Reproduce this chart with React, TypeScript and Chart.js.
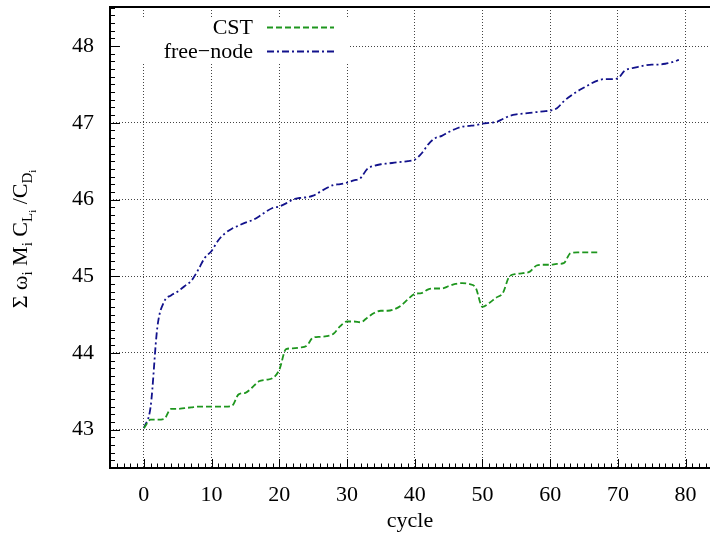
import React, { useEffect, useRef } from "react";
import { Chart, registerables } from "chart.js";

Chart.register(...registerables);

// ---- data ----
const freeNodeCycles = [
  0, 1, 2, 3, 4, 5, 6, 7, 8, 9, 10, 11, 12, 13, 14, 15, 16, 17, 18, 19,
  20, 21, 22, 23, 24, 25, 26, 27, 28, 29, 30, 31, 32, 33, 34, 35, 36, 37, 38, 39,
  40, 41, 42, 43, 44, 45, 46, 47, 48, 49, 50, 51, 52, 53, 54, 55, 56, 57, 58, 59,
  60, 61, 62, 63, 64, 65, 66, 67, 68, 69, 70, 71, 72, 73, 74, 75, 76, 77, 78, 79,
];
const freeNodeValues = [
  43.02, 43.3, 44.34, 44.67, 44.75, 44.8, 44.87, 44.94, 45.08, 45.24,
  45.33, 45.47, 45.56, 45.62, 45.66, 45.7, 45.73, 45.78, 45.84, 45.89,
  45.91, 45.95, 46.0, 46.02, 46.03, 46.05, 46.1, 46.15, 46.19, 46.2,
  46.22, 46.25, 46.28, 46.4, 46.44, 46.46, 46.47, 46.48, 46.49, 46.5,
  46.52, 46.6, 46.72, 46.8, 46.83, 46.88, 46.92, 46.95, 46.96, 46.97,
  46.99, 47.0, 47.01, 47.05, 47.09, 47.11, 47.12, 47.13, 47.14, 47.15,
  47.16, 47.19, 47.28, 47.35, 47.41, 47.46, 47.51, 47.55, 47.57, 47.57,
  47.58, 47.68, 47.71, 47.73, 47.75, 47.76, 47.76, 47.77, 47.79, 47.82,
];
const cstCycles = [
  0, 1, 2, 3, 4, 5, 6, 7, 8, 9, 10, 11, 12, 13, 14, 15, 16, 17, 18, 19,
  20, 21, 22, 23, 24, 25, 26, 27, 28, 29, 30, 31, 32, 33, 34, 35, 36, 37, 38, 39,
  40, 41, 42, 43, 44, 45, 46, 47, 48, 49, 50, 51, 52, 53, 54, 55, 56, 57, 58, 59,
  60, 61, 62, 63, 64, 65, 66, 67,
];
const cstValues = [
  43.02, 43.13, 43.13, 43.14, 43.27, 43.27, 43.28, 43.29, 43.3, 43.3,
  43.3, 43.3, 43.3, 43.31, 43.46, 43.48, 43.55, 43.63, 43.65, 43.67,
  43.78, 44.05, 44.06, 44.07, 44.09, 44.2, 44.21, 44.22, 44.25, 44.35,
  44.41, 44.41, 44.4, 44.46, 44.52, 44.55, 44.55, 44.57, 44.62, 44.7,
  44.77, 44.78, 44.83, 44.84, 44.84, 44.87, 44.9, 44.91, 44.9, 44.85,
  44.6, 44.65, 44.72, 44.78, 45.0, 45.03, 45.04, 45.06, 45.14, 45.15,
  45.15, 45.16, 45.17, 45.3, 45.31, 45.31, 45.31, 45.31,
];
const xTickValues = [0, 10, 20, 30, 40, 50, 60, 70, 80];
const yTickValues = [43, 44, 45, 46, 47, 48];
const seriesNames = ["CST", "free\u2212node"];
const xTitle = "cycle";
// y-axis title pieces: [text, level] where level 0 = normal, 1 = subscript, 2 = sub-subscript
const yTitleParts: [string, number][] = [
  ["\u03A3 ", 0],
  ["\u03C9", 0],
  ["i", 1],
  [" M", 0],
  ["i", 1],
  [" C", 0],
  ["L", 1],
  ["i", 2],
  [" /C", 0],
  ["D", 1],
  ["i", 2],
];

const FONT = '"Liberation Serif", "Times New Roman", serif';
const CST_COLOR = "#1e961e";
const FREE_COLOR = "#12128c";
const CST_DASH = [6, 3];
const FREE_DASH = [7, 3, 2, 3];

const axesPlugin = {
  id: "gnuplotAxes",
  afterDraw(chart: any) {
    const { ctx, chartArea: a, scales } = chart;
    const x = scales.x;
    const y = scales.y;
    ctx.save();
    ctx.strokeStyle = "#000";
    ctx.lineWidth = 1;
    ctx.setLineDash([]);
    ctx.beginPath();
    const xLo = Math.ceil(x.min);
    const xHi = Math.floor(x.max);
    for (let k = xLo; k <= xHi; k++) {
      const px = Math.round(x.getPixelForValue(k)) + 0.5;
      const len = k % 10 === 0 ? 9 : 4.5;
      ctx.moveTo(px, a.bottom);
      ctx.lineTo(px, a.bottom - len);
    }
    const yLo = Math.ceil(y.min * 10);
    const yHi = Math.floor(y.max * 10);
    for (let k = yLo; k <= yHi; k++) {
      const py = Math.round(y.getPixelForValue(k / 10)) + 0.5;
      const len = k % 10 === 0 ? 10 : 5;
      ctx.moveTo(a.left, py);
      ctx.lineTo(a.left + len, py);
    }
    ctx.stroke();
    ctx.lineWidth = 2;
    ctx.beginPath();
    ctx.moveTo(a.left, a.top - 1);
    ctx.lineTo(a.left, a.bottom + 1);
    ctx.moveTo(a.left - 1, a.bottom);
    ctx.lineTo(a.right, a.bottom);
    ctx.moveTo(a.left - 1, a.top);
    ctx.lineTo(a.right, a.top);
    ctx.stroke();
    ctx.restore();
  },
};

const legendPlugin = {
  id: "gnuplotLegend",
  afterDatasetsDraw(chart: any) {
    const { ctx } = chart;
    ctx.save();
    ctx.fillStyle = "#fff";
    ctx.fillRect(122, 17, 226, 46);
    const rows = [
      { label: seriesNames[0], color: CST_COLOR, dash: CST_DASH, y: 28 },
      { label: seriesNames[1], color: FREE_COLOR, dash: FREE_DASH, y: 52 },
    ];
    for (const r of rows) {
      ctx.fillStyle = "#000";
      ctx.font = `22px ${FONT}`;
      ctx.textAlign = "right";
      ctx.textBaseline = "middle";
      ctx.fillText(r.label, 253, r.y);
      ctx.strokeStyle = r.color;
      ctx.lineWidth = 1.8;
      ctx.setLineDash(r.dash);
      ctx.beginPath();
      ctx.moveTo(267, r.y - 0.5);
      ctx.lineTo(334, r.y - 0.5);
      ctx.stroke();
    }
    ctx.restore();
  },
};

const yTitlePlugin = {
  id: "yTitle",
  afterDraw(chart: any) {
    const { ctx } = chart;
    const sizes = [22, 15, 11];
    const shifts = [0, 5, 9];
    ctx.save();
    ctx.translate(27, 239);
    ctx.rotate(-Math.PI / 2);
    ctx.fillStyle = "#000";
    ctx.textBaseline = "alphabetic";
    ctx.textAlign = "left";
    let total = 0;
    for (const [t, lvl] of yTitleParts) {
      ctx.font = `${sizes[lvl]}px ${FONT}`;
      total += ctx.measureText(t).width;
    }
    let cx = -total / 2;
    for (const [t, lvl] of yTitleParts) {
      ctx.font = `${sizes[lvl]}px ${FONT}`;
      ctx.fillText(t, cx, shifts[lvl]);
      cx += ctx.measureText(t).width;
    }
    ctx.restore();
  },
};

const zeroPadding = (s: any) => {
  s.paddingTop = 0;
  s.paddingBottom = 0;
  s.paddingLeft = 0;
  s.paddingRight = 0;
};

export default function App() {
  const ref = useRef<HTMLCanvasElement | null>(null);

  useEffect(() => {
    if (!ref.current) return;
    const chart = new Chart(ref.current, {
      type: "line",
      data: {
        datasets: [
          {
            label: seriesNames[0],
            data: cstCycles.map((c, i) => ({ x: c, y: cstValues[i] })),
            borderColor: CST_COLOR,
            borderWidth: 1.8,
            borderDash: CST_DASH,
            pointRadius: 0,
            fill: false,
            cubicInterpolationMode: "monotone",
          },
          {
            label: seriesNames[1],
            data: freeNodeCycles.map((c, i) => ({ x: c, y: freeNodeValues[i] })),
            borderColor: FREE_COLOR,
            borderWidth: 1.8,
            borderDash: FREE_DASH,
            pointRadius: 0,
            fill: false,
            cubicInterpolationMode: "monotone",
          },
        ],
      },
      options: {
        responsive: false,
        animation: false,
        events: [],
        layout: { padding: { top: 7, right: 0, left: 0, bottom: 0 } },
        plugins: {
          legend: { display: false },
          tooltip: { enabled: false },
          title: { display: false },
        },
        scales: {
          x: {
            type: "linear",
            min: -5,
            max: 83.6,
            afterBuildTicks: (s: any) => {
              s.ticks = xTickValues.map((v) => ({ value: v }));
            },
            afterFit: (s: any) => {
              s.height = 76;
              zeroPadding(s);
            },
            grid: {
              color: "#444",
              lineWidth: 1,
              drawTicks: false,
            },
            border: { display: false, dash: [1, 2] },
            ticks: {
              color: "#000",
              font: { family: FONT, size: 22 },
              padding: 14,
              maxRotation: 0,
              autoSkip: false,
            },
            title: {
              display: true,
              text: xTitle,
              color: "#000",
              font: { family: FONT, size: 22 },
              padding: { top: 0, bottom: 10 },
            },
          },
          y: {
            type: "linear",
            min: 42.5,
            max: 48.51,
            afterBuildTicks: (s: any) => {
              s.ticks = yTickValues.map((v) => ({ value: v }));
            },
            afterFit: (s: any) => {
              s.width = 110;
              zeroPadding(s);
            },
            grid: {
              color: "#444",
              lineWidth: 1,
              drawTicks: false,
            },
            border: { display: false, dash: [1, 2] },
            ticks: {
              color: "#000",
              font: { family: FONT, size: 22 },
              padding: 16,
              autoSkip: false,
            },
          },
        },
      },
      plugins: [legendPlugin, axesPlugin, yTitlePlugin],
    } as any);
    return () => chart.destroy();
  }, []);

  return (
    <div style={{ position: "absolute", left: 0, top: 0, width: 710, height: 544, background: "#fff" }}>
      <canvas ref={ref} width={710} height={544} style={{ display: "block" }} />
    </div>
  );
}
